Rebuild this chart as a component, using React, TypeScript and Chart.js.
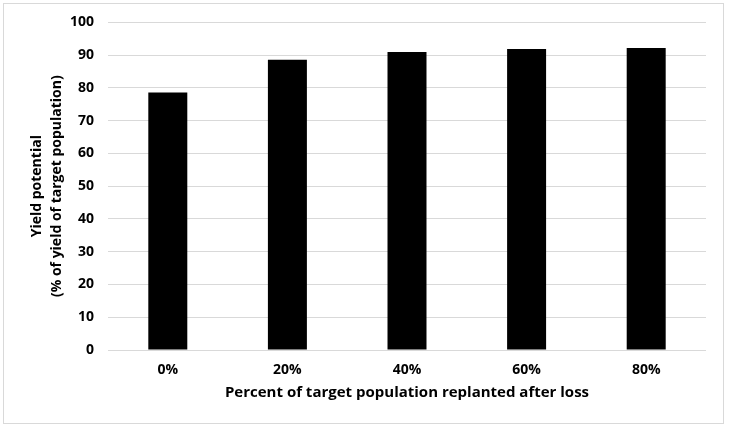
import React, { useEffect, useRef } from "react";
import { Chart, registerables } from "chart.js";

Chart.register(...registerables);

const categories = ["0%", "20%", "40%", "60%", "80%"];
const yieldPotential = [78.6, 88.6, 91.0, 91.9, 92.2];
const yTitle = ["Yield potential", "(% of yield of target population)"];
const xTitle = "Percent of target population replanted after loss";

const FONT = '"Open Sans", "Liberation Sans", Arial, sans-serif';

export default function App() {
  const ref = useRef<HTMLCanvasElement | null>(null);

  useEffect(() => {
    document.body.style.margin = "0";
    if (!ref.current) return;
    const chart = new Chart(ref.current, {
      type: "bar",
      data: {
        labels: categories,
        datasets: [
          {
            data: yieldPotential,
            backgroundColor: "#000000",
            borderWidth: 0,
            barPercentage: 1,
            categoryPercentage: 0.326,
          },
        ],
      },
      options: {
        animation: false,
        responsive: false,
        devicePixelRatio: 1,
        layout: { padding: { top: 22, right: 23, left: 0, bottom: 0 } },
        plugins: { legend: { display: false }, tooltip: { enabled: false } },
        scales: {
          y: {
            min: 0,
            max: 100,
            ticks: {
              stepSize: 10,
              color: "#000",
              padding: 14,
              font: { family: FONT, size: 14, weight: "bold" },
            },
            grid: { color: "#d9d9d9", lineWidth: 1, drawTicks: false },
            border: { display: false },
            title: {
              display: true,
              text: yTitle,
              color: "#000",
              font: { family: FONT, size: 14, weight: "bold", lineHeight: "20px" },
              padding: { top: 27, bottom: 0 },
            },
            afterFit: (s: any) => {
              s.width = 108;
            },
          },
          x: {
            grid: { display: false, drawTicks: false },
            border: { display: false },
            ticks: {
              color: "#000",
              padding: 12,
              font: { family: FONT, size: 14, weight: "bold" },
            },
            title: {
              display: true,
              text: xTitle,
              color: "#000",
              font: { family: FONT, size: 15, weight: "bold" },
              padding: { top: 0, bottom: 27 },
            },
            afterFit: (s: any) => {
              s.height = 79;
            },
          },
        },
      },
    });
    return () => chart.destroy();
  }, []);

  return (
    <div style={{ position: "relative", width: 729, height: 429, background: "#fff" }}>
      <div
        style={{
          position: "absolute",
          left: 3,
          top: 3,
          width: 719,
          height: 419,
          border: "1px solid #d9d9d9",
          boxSizing: "content-box",
        }}
      />
      <canvas
        ref={ref}
        width={729}
        height={429}
        style={{ position: "absolute", left: 0, top: 0, width: 729, height: 429 }}
      />
    </div>
  );
}
